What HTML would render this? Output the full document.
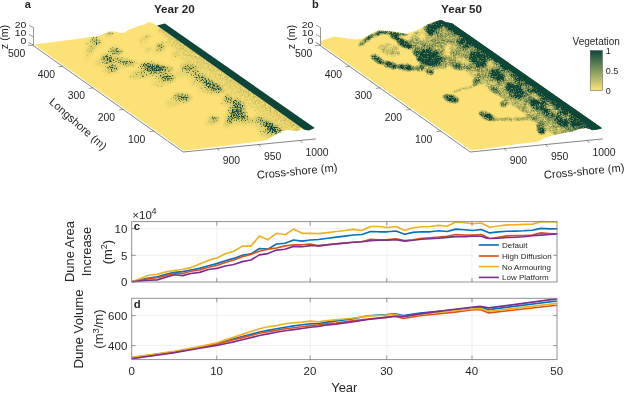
<!DOCTYPE html>
<html><head><meta charset="utf-8"><title>Dune figure</title>
<style>html,body{margin:0;padding:0;background:#fff}svg{display:block}text{font-family:"Liberation Sans",Arial,sans-serif;fill:#262626}</style></head><body>
<svg width="625" height="400" viewBox="0 0 625 400">
<rect width="625" height="400" fill="#fff"/>
<defs>
<linearGradient id="cb" x1="0" y1="0" x2="0" y2="1"><stop offset="0" stop-color="#0d4638"/><stop offset="0.5" stop-color="#7f9a5a"/><stop offset="1" stop-color="#fde37a"/></linearGradient>
</defs>
<g transform="translate(0,0)">
<polygon points="34.0,44.5 90.0,37.3 98.6,35.9 104.4,33.4 109.4,31.6 114.5,31.6 120.2,33.0 123.8,33.0 128.9,29.4 133.2,28.2 139.0,25.8 144.7,24.4 148.3,21.9 151.9,22.9 157.0,25.4 305.0,130.0 304.3,129.7 302.1,129.0 296.5,131.3 292.0,130.6 287.5,129.7 281.9,131.7 274.1,135.8 266.2,140.2 247.2,142.9 224.8,145.8 202.4,148.5 183.8,150.7" fill="#fce276"/>
<polygon points="157.0,25.4 164.9,23.6 314.5,127.8 313.8,128.6 308.8,130.6 304.3,129.7" fill="#0d4638"/>
<g stroke="#555" stroke-width="0.6" fill="none">
<path d="M33.5,27.5V45 M29,25.2L33.5,27.7 M29,34.4L33.5,36.9 M28.5,42.5L33.5,45 M28,45.3H33.5"/>
<path d="M32.7,45.2L183.2,152L315.9,138.9" stroke-width="0.8" stroke="#666"/>
<path d="M62.9,66.2l-4.5,0.6"/>
<path d="M93.3,87.8l-4.5,0.6"/>
<path d="M123.7,109.4l-4.5,0.6"/>
<path d="M154.1,131.0l-4.5,0.6"/>
<path d="M216.9,148l2.5,3.0"/>
<path d="M258.3,144.1l2.5,3.0"/>
<path d="M300,140.1l2.5,3.0"/>
</g>
<text x="16.6" y="56.8" font-size="10.4" text-anchor="middle">500</text>
<text x="46.4" y="77.80000000000001" font-size="10.4" text-anchor="middle">400</text>
<text x="76.3" y="99.4" font-size="10.4" text-anchor="middle">300</text>
<text x="106.3" y="121.10000000000001" font-size="10.4" text-anchor="middle">200</text>
<text x="136.7" y="142.5" font-size="10.4" text-anchor="middle">100</text>
<text x="231.4" y="163.70000000000002" font-size="10.4" text-anchor="middle">900</text>
<text x="272.7" y="159.9" font-size="10.4" text-anchor="middle">950</text>
<text x="317" y="156.1" font-size="10.4" text-anchor="middle">1000</text>
<text transform="translate(26.4,27.8) scale(1,0.82)" font-size="10.5" text-anchor="end">20</text>
<text transform="translate(26.4,35.8) scale(1,0.82)" font-size="10.5" text-anchor="end">10</text>
<text transform="translate(26.4,43.8) scale(1,0.82)" font-size="10.5" text-anchor="end">0</text>
<text transform="translate(8.4,37) rotate(-90)" font-size="10.7" text-anchor="middle">z (m)</text>
<text transform="translate(75.6,126.8) rotate(41.3)" font-size="11.1" text-anchor="middle">Longshore (m)</text>
<text transform="translate(297.4,175) rotate(-5.5)" font-size="11.2" text-anchor="middle">Cross-shore (m)</text>
</g>
<g transform="translate(287,0)">
<polygon points="34.0,44.5 34.0,41.0 46.7,36.4 68.3,39.5 75.5,38.8 85.6,33.0 91.8,30.2 100.6,31.1 109.4,32.0 118.2,33.8 125.3,32.0 134.0,28.5 141.1,24.1 148.1,21.4 154.3,20.0 158.7,22.3 164.9,23.2 314.5,127.8 314.4,128.7 305.5,130.2 298.7,128.0 292.0,129.1 285.3,131.4 274.1,133.6 265.1,135.8 257.3,138.1 251.7,141.4 224.8,144.8 202.4,148.2 183.8,150.3" fill="#fce276"/>
<g stroke="#555" stroke-width="0.6" fill="none">
<path d="M33.5,27.5V45 M29,25.2L33.5,27.7 M29,34.4L33.5,36.9 M28.5,42.5L33.5,45 M28,45.3H33.5"/>
<path d="M32.7,45.2L183.2,152L315.9,138.9" stroke-width="0.8" stroke="#666"/>
<path d="M62.9,66.2l-4.5,0.6"/>
<path d="M93.3,87.8l-4.5,0.6"/>
<path d="M123.7,109.4l-4.5,0.6"/>
<path d="M154.1,131.0l-4.5,0.6"/>
<path d="M216.9,148l2.5,3.0"/>
<path d="M258.3,144.1l2.5,3.0"/>
<path d="M300,140.1l2.5,3.0"/>
</g>
<text x="16.6" y="56.8" font-size="10.4" text-anchor="middle">500</text>
<text x="46.4" y="77.80000000000001" font-size="10.4" text-anchor="middle">400</text>
<text x="76.3" y="99.4" font-size="10.4" text-anchor="middle">300</text>
<text x="106.3" y="121.10000000000001" font-size="10.4" text-anchor="middle">200</text>
<text x="136.7" y="142.5" font-size="10.4" text-anchor="middle">100</text>
<text x="231.4" y="163.70000000000002" font-size="10.4" text-anchor="middle">900</text>
<text x="272.7" y="159.9" font-size="10.4" text-anchor="middle">950</text>
<text x="317" y="156.1" font-size="10.4" text-anchor="middle">1000</text>
<text transform="translate(26.4,27.8) scale(1,0.82)" font-size="10.5" text-anchor="end">20</text>
<text transform="translate(26.4,35.8) scale(1,0.82)" font-size="10.5" text-anchor="end">10</text>
<text transform="translate(26.4,43.8) scale(1,0.82)" font-size="10.5" text-anchor="end">0</text>
<text transform="translate(8.4,37) rotate(-90)" font-size="10.7" text-anchor="middle">z (m)</text>
<text transform="translate(297.4,175) rotate(-5.5)" font-size="11.2" text-anchor="middle">Cross-shore (m)</text>
</g>
<defs><filter id="vf" x="0" y="0" width="625" height="200" filterUnits="userSpaceOnUse" color-interpolation-filters="sRGB">
<feGaussianBlur in="SourceAlpha" stdDeviation="1.9" result="b"/>
<feTurbulence type="fractalNoise" baseFrequency="0.8" numOctaves="2" seed="3" result="n"/>
<feColorMatrix in="n" type="matrix" values="0 0 0 0 0  0 0 0 0 0  0 0 0 0 0  1.6 0 0 0 -0.3" result="na"/>
<feComposite in="b" in2="na" operator="arithmetic" k1="0" k2="1" k3="1" k4="-1" result="s"/>
<feComponentTransfer in="s" result="t"><feFuncA type="linear" slope="2.6" intercept="0"/></feComponentTransfer>
<feFlood flood-color="#0d4638"/>
<feComposite in2="t" operator="in"/>
<feGaussianBlur stdDeviation="0.45"/>
</filter><clipPath id="ca"><polygon points="33.5,44.8 90,37.3 98.6,35.9 104.4,33.4 109.4,31.6 114.5,31.6 120.2,33 123.8,33 128.9,29.4 133.2,28.2 139,25.8 144.7,24.4 148.3,21.9 151.9,22.9 157,25.4 305,130 304.3,129.7 302.1,129 296.5,131.3 292,130.6 287.5,129.7 281.9,131.7 274.1,135.8 266.2,140.2 247.2,142.9 224.8,145.8 202.4,148.5 183.4,151"/></clipPath></defs>
<defs><filter id="bandblur" x="0" y="0" width="340" height="200" filterUnits="userSpaceOnUse"><feGaussianBlur stdDeviation="0.7"/></filter></defs>
<defs><filter id="soft" x="0" y="0" width="625" height="200" filterUnits="userSpaceOnUse"><feGaussianBlur stdDeviation="1.4"/></filter><filter id="vb" x="0" y="0" width="340" height="200" filterUnits="userSpaceOnUse" color-interpolation-filters="sRGB">
<feGaussianBlur in="SourceGraphic" stdDeviation="1.4" result="g"/>
<feColorMatrix in="g" type="matrix" values="0 0 0 0 0  0 0 0 0 0  0 0 0 0 0  1 0 0 0 0" result="b"/>
<feTurbulence type="fractalNoise" baseFrequency="0.75" numOctaves="2" seed="5" result="n"/>
<feColorMatrix in="n" type="matrix" values="0 0 0 0 0  0 0 0 0 0  0 0 0 0 0  1.6 0 0 0 -0.3" result="na"/>
<feTurbulence type="fractalNoise" baseFrequency="0.2" numOctaves="3" seed="11" result="m"/>
<feColorMatrix in="m" type="matrix" values="0 0 0 0 0  0 0 0 0 0  0 0 0 0 0  1 0 0 0 0" result="ma"/>
<feComposite in="b" in2="ma" operator="arithmetic" k1="1.4" k2="0.38" k3="0" k4="0" result="b2"/>
<feComposite in="b2" in2="na" operator="arithmetic" k1="1.0" k2="0.5" k3="0" k4="0" result="s"/>
<feComponentTransfer in="s" result="t"><feFuncA type="linear" slope="1.35" intercept="-0.17500000000000004"/></feComponentTransfer>
<feFlood flood-color="#0d4638"/>
<feComposite in2="t" operator="in"/>
<feGaussianBlur stdDeviation="0.55"/>
</filter>
<filter id="vbs" x="0" y="0" width="340" height="200" filterUnits="userSpaceOnUse" color-interpolation-filters="sRGB">
<feGaussianBlur in="SourceGraphic" stdDeviation="2" result="g"/>
<feColorMatrix in="g" type="matrix" values="0 0 0 0 0.37  0 0 0 0 0.48  0 0 0 0 0.24  0.5 0 0 0 0"/>
</filter><clipPath id="cbp"><polygon points="33.5,44.8 33.8,41 46.7,36.4 68.3,39.5 75.5,38.8 85.6,33 91.8,30.2 100.6,31.1 109.4,32 118.2,33.8 125.3,32 134,28.5 141.1,24.1 148.1,21.4 154.3,20 158.7,22.3 164.9,23.2 314.5,127.8 314.4,128.7 305.5,130.2 298.7,128 292,129.1 285.3,131.4 274.1,133.6 265.1,135.8 257.3,138.1 251.7,141.4 224.8,144.8 202.4,148.2 183.4,150.4"/></clipPath></defs>
<defs><filter id="sn" x="0" y="0" width="340" height="200" filterUnits="userSpaceOnUse" color-interpolation-filters="sRGB">
<feGaussianBlur in="SourceAlpha" stdDeviation="1.6" result="b"/>
<feTurbulence type="fractalNoise" baseFrequency="0.6" numOctaves="2" seed="9" result="n"/>
<feColorMatrix in="n" type="matrix" values="0 0 0 0 0  0 0 0 0 0  0 0 0 0 0  2.2 0 0 0 -0.6" result="na"/>
<feComposite in="b" in2="na" operator="arithmetic" k1="0.45" k2="0" k3="0" k4="0" result="t"/>
<feFlood flood-color="#6d7d3a"/>
<feComposite in2="t" operator="in"/>
<feGaussianBlur stdDeviation="0.4"/>
</filter></defs>
<g clip-path="url(#ca)"><g filter="url(#sn)"><polygon points="160.6,26.7 305.6,129.2 302.7,133.3 157.7,30.8" fill-opacity="1"/><polygon points="167.7,37.8 302.7,133.3 299.8,137.3 164.8,41.8" fill-opacity="0.75"/><polygon points="179.8,52.3 294.8,133.8 291.9,137.9 176.9,56.4" fill-opacity="0.45"/></g><g filter="url(#soft)" fill="#5f7a3c" opacity="0.45"><ellipse cx="108.4" cy="34.3" rx="4.7" ry="2.2" transform="rotate(-25 110 32.7)" fill-opacity="0.24"/>
<ellipse cx="110" cy="32.7" rx="3.125" ry="1.7249999999999999" transform="rotate(0 110 32.7)" fill-opacity="0.6240000000000001"/>
<ellipse cx="93.1" cy="43.0" rx="8.4" ry="3.7" transform="rotate(-5 95.9 40.4)" fill-opacity="0.25"/>
<ellipse cx="95.9" cy="40.4" rx="5.625" ry="2.875" transform="rotate(20 95.9 40.4)" fill-opacity="0.663"/>
<ellipse cx="87.7" cy="50.6" rx="9.4" ry="2.7" transform="rotate(-55 90.8 48.7)" fill-opacity="0.18"/>
<ellipse cx="90.8" cy="48.7" rx="6.25" ry="2.07" transform="rotate(-30 90.8 48.7)" fill-opacity="0.46799999999999997"/>
<ellipse cx="112.3" cy="53.2" rx="10.3" ry="3.7" transform="rotate(-15 115.7 50.6)" fill-opacity="0.27"/>
<ellipse cx="115.7" cy="50.6" rx="6.875" ry="2.875" transform="rotate(10 115.7 50.6)" fill-opacity="0.7020000000000001"/>
<ellipse cx="104.0" cy="62.0" rx="10.3" ry="4.5" transform="rotate(-5 107.4 58.9)" fill-opacity="0.25"/>
<ellipse cx="107.4" cy="58.9" rx="6.875" ry="3.4499999999999997" transform="rotate(20 107.4 58.9)" fill-opacity="0.663"/>
<ellipse cx="119.1" cy="64.1" rx="16.9" ry="3.7" transform="rotate(-13 124.7 61.5)" fill-opacity="0.24"/>
<ellipse cx="124.7" cy="61.5" rx="11.25" ry="2.875" transform="rotate(12 124.7 61.5)" fill-opacity="0.6240000000000001"/>
<ellipse cx="110.7" cy="70.5" rx="7.5" ry="3.7" transform="rotate(-5 113.2 67.9)" fill-opacity="0.24"/>
<ellipse cx="113.2" cy="67.9" rx="5.0" ry="2.875" transform="rotate(20 113.2 67.9)" fill-opacity="0.6240000000000001"/>
<ellipse cx="145.3" cy="70.8" rx="18.8" ry="5.2" transform="rotate(-15 151.6 67.2)" fill-opacity="0.25"/>
<ellipse cx="151.6" cy="67.2" rx="12.5" ry="4.0249999999999995" transform="rotate(10 151.6 67.2)" fill-opacity="0.663"/>
<ellipse cx="162.2" cy="71.1" rx="11.2" ry="3.7" transform="rotate(-15 166 68.5)" fill-opacity="0.21"/>
<ellipse cx="166" cy="68.5" rx="7.5" ry="2.875" transform="rotate(10 166 68.5)" fill-opacity="0.5459999999999999"/>
<ellipse cx="158.3" cy="48.7" rx="6.6" ry="3.7" transform="rotate(-25 160.5 46.1)" fill-opacity="0.25"/>
<ellipse cx="160.5" cy="46.1" rx="4.375" ry="2.875" transform="rotate(0 160.5 46.1)" fill-opacity="0.663"/>
<ellipse cx="142.1" cy="39.4" rx="9.4" ry="2.2" transform="rotate(-50 145.2 37.8)" fill-opacity="0.13"/>
<ellipse cx="145.2" cy="37.8" rx="6.25" ry="1.7249999999999999" transform="rotate(-25 145.2 37.8)" fill-opacity="0.35100000000000003"/>
<ellipse cx="146.5" cy="50.5" rx="5.6" ry="1.8" transform="rotate(-45 148.4 49.3)" fill-opacity="0.13"/>
<ellipse cx="148.4" cy="49.3" rx="3.75" ry="1.38" transform="rotate(-20 148.4 49.3)" fill-opacity="0.35100000000000003"/>
<ellipse cx="173.1" cy="55.3" rx="5.6" ry="2.2" transform="rotate(-45 175 53.7)" fill-opacity="0.15"/>
<ellipse cx="175" cy="53.7" rx="3.75" ry="1.7249999999999999" transform="rotate(-20 175 53.7)" fill-opacity="0.39"/>
<ellipse cx="148.2" cy="70.3" rx="16.9" ry="5.2" transform="rotate(-15 153.8 66.7)" fill-opacity="0.18"/>
<ellipse cx="153.8" cy="66.7" rx="11.25" ry="4.0249999999999995" transform="rotate(10 153.8 66.7)" fill-opacity="0.46799999999999997"/>
<ellipse cx="162.7" cy="80.4" rx="12.2" ry="4.5" transform="rotate(-15 166.8 77.3)" fill-opacity="0.25"/>
<ellipse cx="166.8" cy="77.3" rx="8.125" ry="3.4499999999999997" transform="rotate(10 166.8 77.3)" fill-opacity="0.663"/>
<ellipse cx="184.4" cy="71.1" rx="13.1" ry="5.2" transform="rotate(-15 188.8 67.5)" fill-opacity="0.21"/>
<ellipse cx="188.8" cy="67.5" rx="8.75" ry="4.0249999999999995" transform="rotate(10 188.8 67.5)" fill-opacity="0.5459999999999999"/>
<ellipse cx="195.2" cy="77.9" rx="7.5" ry="4.5" transform="rotate(-5 197.7 74.8)" fill-opacity="0.18"/>
<ellipse cx="197.7" cy="74.8" rx="5.0" ry="3.4499999999999997" transform="rotate(20 197.7 74.8)" fill-opacity="0.46799999999999997"/>
<ellipse cx="200.3" cy="82.0" rx="9.4" ry="4.5" transform="rotate(-5 203.4 78.9)" fill-opacity="0.22"/>
<ellipse cx="203.4" cy="78.9" rx="6.25" ry="3.4499999999999997" transform="rotate(20 203.4 78.9)" fill-opacity="0.585"/>
<ellipse cx="206.8" cy="87.4" rx="9.4" ry="5.2" transform="rotate(-5 209.9 83.8)" fill-opacity="0.24"/>
<ellipse cx="209.9" cy="83.8" rx="6.25" ry="4.0249999999999995" transform="rotate(20 209.9 83.8)" fill-opacity="0.6240000000000001"/>
<ellipse cx="213.3" cy="90.1" rx="9.4" ry="4.5" transform="rotate(-5 216.4 87)" fill-opacity="0.22"/>
<ellipse cx="216.4" cy="87" rx="6.25" ry="3.4499999999999997" transform="rotate(20 216.4 87)" fill-opacity="0.585"/>
<ellipse cx="217.5" cy="91.6" rx="7.5" ry="3.0" transform="rotate(-5 220 89.5)" fill-opacity="0.18"/>
<ellipse cx="220" cy="89.5" rx="5.0" ry="2.3" transform="rotate(20 220 89.5)" fill-opacity="0.46799999999999997"/>
<ellipse cx="177.6" cy="99.9" rx="14.1" ry="4.5" transform="rotate(-15 182.3 96.8)" fill-opacity="0.25"/>
<ellipse cx="182.3" cy="96.8" rx="9.375" ry="3.4499999999999997" transform="rotate(10 182.3 96.8)" fill-opacity="0.663"/>
<ellipse cx="225.4" cy="101.1" rx="6.6" ry="4.5" transform="rotate(-25 227.6 98)" fill-opacity="0.24"/>
<ellipse cx="227.6" cy="98" rx="4.375" ry="3.4499999999999997" transform="rotate(0 227.6 98)" fill-opacity="0.6240000000000001"/>
<ellipse cx="233.4" cy="106.2" rx="7.5" ry="5.2" transform="rotate(-25 235.9 102.6)" fill-opacity="0.24"/>
<ellipse cx="235.9" cy="102.6" rx="5.0" ry="4.0249999999999995" transform="rotate(0 235.9 102.6)" fill-opacity="0.6240000000000001"/>
<ellipse cx="239.5" cy="108.0" rx="5.6" ry="3.7" transform="rotate(-25 241.4 105.4)" fill-opacity="0.21"/>
<ellipse cx="241.4" cy="105.4" rx="3.75" ry="2.875" transform="rotate(0 241.4 105.4)" fill-opacity="0.5459999999999999"/>
<ellipse cx="230.9" cy="114.0" rx="9.4" ry="4.5" transform="rotate(-25 234 110.9)" fill-opacity="0.24"/>
<ellipse cx="234" cy="110.9" rx="6.25" ry="3.4499999999999997" transform="rotate(0 234 110.9)" fill-opacity="0.6240000000000001"/>
<ellipse cx="241.6" cy="113.5" rx="4.7" ry="3.7" transform="rotate(-25 243.2 110.9)" fill-opacity="0.21"/>
<ellipse cx="243.2" cy="110.9" rx="3.125" ry="2.875" transform="rotate(0 243.2 110.9)" fill-opacity="0.5459999999999999"/>
<ellipse cx="233.3" cy="119.5" rx="13.1" ry="4.5" transform="rotate(-25 237.7 116.4)" fill-opacity="0.24"/>
<ellipse cx="237.7" cy="116.4" rx="8.75" ry="3.4499999999999997" transform="rotate(0 237.7 116.4)" fill-opacity="0.6240000000000001"/>
<ellipse cx="227.5" cy="121.3" rx="5.6" ry="3.0" transform="rotate(-25 229.4 119.2)" fill-opacity="0.21"/>
<ellipse cx="229.4" cy="119.2" rx="3.75" ry="2.3" transform="rotate(0 229.4 119.2)" fill-opacity="0.5459999999999999"/>
<ellipse cx="244.4" cy="121.3" rx="7.5" ry="3.0" transform="rotate(-25 246.9 119.2)" fill-opacity="0.21"/>
<ellipse cx="246.9" cy="119.2" rx="5.0" ry="2.3" transform="rotate(0 246.9 119.2)" fill-opacity="0.5459999999999999"/>
<ellipse cx="211.3" cy="121.1" rx="7.5" ry="3.3" transform="rotate(-15 213.8 118.8)" fill-opacity="0.25"/>
<ellipse cx="213.8" cy="118.8" rx="5.0" ry="2.53" transform="rotate(10 213.8 118.8)" fill-opacity="0.663"/>
<ellipse cx="256.7" cy="121.8" rx="9.4" ry="3.7" transform="rotate(-5 259.8 119.2)" fill-opacity="0.22"/>
<ellipse cx="259.8" cy="119.2" rx="6.25" ry="2.875" transform="rotate(20 259.8 119.2)" fill-opacity="0.585"/>
<ellipse cx="264.9" cy="126.9" rx="9.4" ry="4.5" transform="rotate(-5 268 123.8)" fill-opacity="0.25"/>
<ellipse cx="268" cy="123.8" rx="6.25" ry="3.4499999999999997" transform="rotate(20 268 123.8)" fill-opacity="0.663"/>
<ellipse cx="269.9" cy="132.0" rx="11.2" ry="5.2" transform="rotate(-5 273.6 128.4)" fill-opacity="0.25"/>
<ellipse cx="273.6" cy="128.4" rx="7.5" ry="4.0249999999999995" transform="rotate(20 273.6 128.4)" fill-opacity="0.663"/>
<ellipse cx="268.9" cy="133.2" rx="5.6" ry="3.0" transform="rotate(-25 270.8 131.1)" fill-opacity="0.21"/>
<ellipse cx="270.8" cy="131.1" rx="3.75" ry="2.3" transform="rotate(0 270.8 131.1)" fill-opacity="0.5459999999999999"/>
<ellipse cx="277.1" cy="132.1" rx="5.6" ry="3.0" transform="rotate(-25 279 130)" fill-opacity="0.18"/>
<ellipse cx="279" cy="130" rx="3.75" ry="2.3" transform="rotate(0 279 130)" fill-opacity="0.46799999999999997"/></g><g filter="url(#vf)"><ellipse cx="108.4" cy="34.3" rx="4.7" ry="2.2" transform="rotate(-25 110 32.7)" fill-opacity="0.24"/>
<ellipse cx="110" cy="32.7" rx="3.125" ry="1.7249999999999999" transform="rotate(0 110 32.7)" fill-opacity="0.6240000000000001"/>
<ellipse cx="93.1" cy="43.0" rx="8.4" ry="3.7" transform="rotate(-5 95.9 40.4)" fill-opacity="0.25"/>
<ellipse cx="95.9" cy="40.4" rx="5.625" ry="2.875" transform="rotate(20 95.9 40.4)" fill-opacity="0.663"/>
<ellipse cx="87.7" cy="50.6" rx="9.4" ry="2.7" transform="rotate(-55 90.8 48.7)" fill-opacity="0.18"/>
<ellipse cx="90.8" cy="48.7" rx="6.25" ry="2.07" transform="rotate(-30 90.8 48.7)" fill-opacity="0.46799999999999997"/>
<ellipse cx="112.3" cy="53.2" rx="10.3" ry="3.7" transform="rotate(-15 115.7 50.6)" fill-opacity="0.27"/>
<ellipse cx="115.7" cy="50.6" rx="6.875" ry="2.875" transform="rotate(10 115.7 50.6)" fill-opacity="0.7020000000000001"/>
<ellipse cx="104.0" cy="62.0" rx="10.3" ry="4.5" transform="rotate(-5 107.4 58.9)" fill-opacity="0.25"/>
<ellipse cx="107.4" cy="58.9" rx="6.875" ry="3.4499999999999997" transform="rotate(20 107.4 58.9)" fill-opacity="0.663"/>
<ellipse cx="119.1" cy="64.1" rx="16.9" ry="3.7" transform="rotate(-13 124.7 61.5)" fill-opacity="0.24"/>
<ellipse cx="124.7" cy="61.5" rx="11.25" ry="2.875" transform="rotate(12 124.7 61.5)" fill-opacity="0.6240000000000001"/>
<ellipse cx="110.7" cy="70.5" rx="7.5" ry="3.7" transform="rotate(-5 113.2 67.9)" fill-opacity="0.24"/>
<ellipse cx="113.2" cy="67.9" rx="5.0" ry="2.875" transform="rotate(20 113.2 67.9)" fill-opacity="0.6240000000000001"/>
<ellipse cx="145.3" cy="70.8" rx="18.8" ry="5.2" transform="rotate(-15 151.6 67.2)" fill-opacity="0.25"/>
<ellipse cx="151.6" cy="67.2" rx="12.5" ry="4.0249999999999995" transform="rotate(10 151.6 67.2)" fill-opacity="0.663"/>
<ellipse cx="162.2" cy="71.1" rx="11.2" ry="3.7" transform="rotate(-15 166 68.5)" fill-opacity="0.21"/>
<ellipse cx="166" cy="68.5" rx="7.5" ry="2.875" transform="rotate(10 166 68.5)" fill-opacity="0.5459999999999999"/>
<ellipse cx="158.3" cy="48.7" rx="6.6" ry="3.7" transform="rotate(-25 160.5 46.1)" fill-opacity="0.25"/>
<ellipse cx="160.5" cy="46.1" rx="4.375" ry="2.875" transform="rotate(0 160.5 46.1)" fill-opacity="0.663"/>
<ellipse cx="142.1" cy="39.4" rx="9.4" ry="2.2" transform="rotate(-50 145.2 37.8)" fill-opacity="0.13"/>
<ellipse cx="145.2" cy="37.8" rx="6.25" ry="1.7249999999999999" transform="rotate(-25 145.2 37.8)" fill-opacity="0.35100000000000003"/>
<ellipse cx="146.5" cy="50.5" rx="5.6" ry="1.8" transform="rotate(-45 148.4 49.3)" fill-opacity="0.13"/>
<ellipse cx="148.4" cy="49.3" rx="3.75" ry="1.38" transform="rotate(-20 148.4 49.3)" fill-opacity="0.35100000000000003"/>
<ellipse cx="173.1" cy="55.3" rx="5.6" ry="2.2" transform="rotate(-45 175 53.7)" fill-opacity="0.15"/>
<ellipse cx="175" cy="53.7" rx="3.75" ry="1.7249999999999999" transform="rotate(-20 175 53.7)" fill-opacity="0.39"/>
<ellipse cx="148.2" cy="70.3" rx="16.9" ry="5.2" transform="rotate(-15 153.8 66.7)" fill-opacity="0.18"/>
<ellipse cx="153.8" cy="66.7" rx="11.25" ry="4.0249999999999995" transform="rotate(10 153.8 66.7)" fill-opacity="0.46799999999999997"/>
<ellipse cx="162.7" cy="80.4" rx="12.2" ry="4.5" transform="rotate(-15 166.8 77.3)" fill-opacity="0.25"/>
<ellipse cx="166.8" cy="77.3" rx="8.125" ry="3.4499999999999997" transform="rotate(10 166.8 77.3)" fill-opacity="0.663"/>
<ellipse cx="184.4" cy="71.1" rx="13.1" ry="5.2" transform="rotate(-15 188.8 67.5)" fill-opacity="0.21"/>
<ellipse cx="188.8" cy="67.5" rx="8.75" ry="4.0249999999999995" transform="rotate(10 188.8 67.5)" fill-opacity="0.5459999999999999"/>
<ellipse cx="195.2" cy="77.9" rx="7.5" ry="4.5" transform="rotate(-5 197.7 74.8)" fill-opacity="0.18"/>
<ellipse cx="197.7" cy="74.8" rx="5.0" ry="3.4499999999999997" transform="rotate(20 197.7 74.8)" fill-opacity="0.46799999999999997"/>
<ellipse cx="200.3" cy="82.0" rx="9.4" ry="4.5" transform="rotate(-5 203.4 78.9)" fill-opacity="0.22"/>
<ellipse cx="203.4" cy="78.9" rx="6.25" ry="3.4499999999999997" transform="rotate(20 203.4 78.9)" fill-opacity="0.585"/>
<ellipse cx="206.8" cy="87.4" rx="9.4" ry="5.2" transform="rotate(-5 209.9 83.8)" fill-opacity="0.24"/>
<ellipse cx="209.9" cy="83.8" rx="6.25" ry="4.0249999999999995" transform="rotate(20 209.9 83.8)" fill-opacity="0.6240000000000001"/>
<ellipse cx="213.3" cy="90.1" rx="9.4" ry="4.5" transform="rotate(-5 216.4 87)" fill-opacity="0.22"/>
<ellipse cx="216.4" cy="87" rx="6.25" ry="3.4499999999999997" transform="rotate(20 216.4 87)" fill-opacity="0.585"/>
<ellipse cx="217.5" cy="91.6" rx="7.5" ry="3.0" transform="rotate(-5 220 89.5)" fill-opacity="0.18"/>
<ellipse cx="220" cy="89.5" rx="5.0" ry="2.3" transform="rotate(20 220 89.5)" fill-opacity="0.46799999999999997"/>
<ellipse cx="177.6" cy="99.9" rx="14.1" ry="4.5" transform="rotate(-15 182.3 96.8)" fill-opacity="0.25"/>
<ellipse cx="182.3" cy="96.8" rx="9.375" ry="3.4499999999999997" transform="rotate(10 182.3 96.8)" fill-opacity="0.663"/>
<ellipse cx="225.4" cy="101.1" rx="6.6" ry="4.5" transform="rotate(-25 227.6 98)" fill-opacity="0.24"/>
<ellipse cx="227.6" cy="98" rx="4.375" ry="3.4499999999999997" transform="rotate(0 227.6 98)" fill-opacity="0.6240000000000001"/>
<ellipse cx="233.4" cy="106.2" rx="7.5" ry="5.2" transform="rotate(-25 235.9 102.6)" fill-opacity="0.24"/>
<ellipse cx="235.9" cy="102.6" rx="5.0" ry="4.0249999999999995" transform="rotate(0 235.9 102.6)" fill-opacity="0.6240000000000001"/>
<ellipse cx="239.5" cy="108.0" rx="5.6" ry="3.7" transform="rotate(-25 241.4 105.4)" fill-opacity="0.21"/>
<ellipse cx="241.4" cy="105.4" rx="3.75" ry="2.875" transform="rotate(0 241.4 105.4)" fill-opacity="0.5459999999999999"/>
<ellipse cx="230.9" cy="114.0" rx="9.4" ry="4.5" transform="rotate(-25 234 110.9)" fill-opacity="0.24"/>
<ellipse cx="234" cy="110.9" rx="6.25" ry="3.4499999999999997" transform="rotate(0 234 110.9)" fill-opacity="0.6240000000000001"/>
<ellipse cx="241.6" cy="113.5" rx="4.7" ry="3.7" transform="rotate(-25 243.2 110.9)" fill-opacity="0.21"/>
<ellipse cx="243.2" cy="110.9" rx="3.125" ry="2.875" transform="rotate(0 243.2 110.9)" fill-opacity="0.5459999999999999"/>
<ellipse cx="233.3" cy="119.5" rx="13.1" ry="4.5" transform="rotate(-25 237.7 116.4)" fill-opacity="0.24"/>
<ellipse cx="237.7" cy="116.4" rx="8.75" ry="3.4499999999999997" transform="rotate(0 237.7 116.4)" fill-opacity="0.6240000000000001"/>
<ellipse cx="227.5" cy="121.3" rx="5.6" ry="3.0" transform="rotate(-25 229.4 119.2)" fill-opacity="0.21"/>
<ellipse cx="229.4" cy="119.2" rx="3.75" ry="2.3" transform="rotate(0 229.4 119.2)" fill-opacity="0.5459999999999999"/>
<ellipse cx="244.4" cy="121.3" rx="7.5" ry="3.0" transform="rotate(-25 246.9 119.2)" fill-opacity="0.21"/>
<ellipse cx="246.9" cy="119.2" rx="5.0" ry="2.3" transform="rotate(0 246.9 119.2)" fill-opacity="0.5459999999999999"/>
<ellipse cx="211.3" cy="121.1" rx="7.5" ry="3.3" transform="rotate(-15 213.8 118.8)" fill-opacity="0.25"/>
<ellipse cx="213.8" cy="118.8" rx="5.0" ry="2.53" transform="rotate(10 213.8 118.8)" fill-opacity="0.663"/>
<ellipse cx="256.7" cy="121.8" rx="9.4" ry="3.7" transform="rotate(-5 259.8 119.2)" fill-opacity="0.22"/>
<ellipse cx="259.8" cy="119.2" rx="6.25" ry="2.875" transform="rotate(20 259.8 119.2)" fill-opacity="0.585"/>
<ellipse cx="264.9" cy="126.9" rx="9.4" ry="4.5" transform="rotate(-5 268 123.8)" fill-opacity="0.25"/>
<ellipse cx="268" cy="123.8" rx="6.25" ry="3.4499999999999997" transform="rotate(20 268 123.8)" fill-opacity="0.663"/>
<ellipse cx="269.9" cy="132.0" rx="11.2" ry="5.2" transform="rotate(-5 273.6 128.4)" fill-opacity="0.25"/>
<ellipse cx="273.6" cy="128.4" rx="7.5" ry="4.0249999999999995" transform="rotate(20 273.6 128.4)" fill-opacity="0.663"/>
<ellipse cx="268.9" cy="133.2" rx="5.6" ry="3.0" transform="rotate(-25 270.8 131.1)" fill-opacity="0.21"/>
<ellipse cx="270.8" cy="131.1" rx="3.75" ry="2.3" transform="rotate(0 270.8 131.1)" fill-opacity="0.5459999999999999"/>
<ellipse cx="277.1" cy="132.1" rx="5.6" ry="3.0" transform="rotate(-25 279 130)" fill-opacity="0.18"/>
<ellipse cx="279" cy="130" rx="3.75" ry="2.3" transform="rotate(0 279 130)" fill-opacity="0.46799999999999997"/></g></g>
<g transform="translate(287,0)"><g clip-path="url(#cbp)"><g filter="url(#vb)"><rect x="0" y="0" width="340" height="200" fill="#000"/>
<polygon points="164.9,23.2 314.5,127.8 295.6,154.8 146.0,50.2" fill="#404040" fill-opacity="1"/>
<polygon points="225.0,65.2 314.5,127.8 295.6,154.8 206.1,92.2" fill="#545454" fill-opacity="1"/>
<polygon points="205.0,51.2 314.5,127.8 301.9,145.8 192.4,69.2" fill="#808080" fill-opacity="1"/>
<polygon points="205.0,51.2 314.5,127.8 307.6,137.6 198.1,61.0" fill="#999999" fill-opacity="1"/>
<polygon points="164.9,23.2 205.0,51.2 192.4,69.2 152.3,41.2" fill="#404040" fill-opacity="1"/>
<polygon points="164.9,23.2 205.0,51.2 199.3,59.4 159.2,31.4" fill="#666666" fill-opacity="1"/>
<polygon points="122,40 128,31 140,23 156,19 170,26 215,60 225,90 200,80 170,66 150,70 132,64 126,52" fill="#666666" fill-opacity="1"/>
<ellipse cx="80" cy="39.5" rx="11" ry="2" transform="rotate(-36 80 39.5)" fill="#bfbfbf" fill-opacity="1"/>
<ellipse cx="105" cy="33.0" rx="17" ry="1.7" transform="rotate(5 105 33.0)" fill="#cccccc" fill-opacity="1"/>
<ellipse cx="90" cy="33.5" rx="4" ry="2.2" transform="rotate(-20 90 33.5)" fill="#cccccc" fill-opacity="1"/>
<ellipse cx="93.7" cy="47.6" rx="3" ry="2" transform="rotate(0 93.7 47.6)" fill="#b2b2b2" fill-opacity="1"/>
<ellipse cx="103" cy="50" rx="12" ry="7" transform="rotate(20 103 50)" fill="#3d3d3d" fill-opacity="1"/>
<ellipse cx="90" cy="59" rx="7" ry="3.2" transform="rotate(35 90 59)" fill="#c7c7c7" fill-opacity="1"/>
<ellipse cx="103" cy="65" rx="8" ry="3.2" transform="rotate(18 103 65)" fill="#c7c7c7" fill-opacity="1"/>
<ellipse cx="119" cy="67.5" rx="9" ry="3.2" transform="rotate(8 119 67.5)" fill="#c7c7c7" fill-opacity="1"/>
<ellipse cx="133" cy="68.3" rx="5" ry="2.8" transform="rotate(-10 133 68.3)" fill="#b2b2b2" fill-opacity="1"/>
<ellipse cx="142.6" cy="71.8" rx="4" ry="2.5" transform="rotate(20 142.6 71.8)" fill="#d9d9d9" fill-opacity="1"/>
<ellipse cx="116.5" cy="43" rx="9.5" ry="3.2" transform="rotate(33 116.5 43)" fill="#ffffff" fill-opacity="1"/>
<ellipse cx="108" cy="36.8" rx="5" ry="2" transform="rotate(10 108 36.8)" fill="#d9d9d9" fill-opacity="1"/>
<ellipse cx="142" cy="57.4" rx="13" ry="7.5" transform="rotate(15 142 57.4)" fill="#ffffff" fill-opacity="1"/>
<ellipse cx="131" cy="53.5" rx="6" ry="3" transform="rotate(20 131 53.5)" fill="#d9d9d9" fill-opacity="1"/>
<ellipse cx="145.5" cy="29" rx="8" ry="5.5" transform="rotate(-25 145.5 29)" fill="#ffffff" fill-opacity="1"/>
<ellipse cx="151.5" cy="23.5" rx="6" ry="3" transform="rotate(-25 151.5 23.5)" fill="#f2f2f2" fill-opacity="1"/>
<ellipse cx="153" cy="33" rx="8" ry="5.5" transform="rotate(-20 153 33)" fill="#737373" fill-opacity="1"/>
<ellipse cx="178" cy="42.6" rx="7" ry="4.5" transform="rotate(35 178 42.6)" fill="#d9d9d9" fill-opacity="1"/>
<ellipse cx="191" cy="59" rx="10" ry="6.5" transform="rotate(35 191 59)" fill="#f2f2f2" fill-opacity="1"/>
<ellipse cx="170.5" cy="67" rx="7" ry="2.5" transform="rotate(15 170.5 67)" fill="#b2b2b2" fill-opacity="1"/>
<ellipse cx="210" cy="75" rx="8" ry="5" transform="rotate(35 210 75)" fill="#e6e6e6" fill-opacity="1"/>
<ellipse cx="228" cy="91" rx="10" ry="5.5" transform="rotate(32 228 91)" fill="#f2f2f2" fill-opacity="1"/>
<ellipse cx="209" cy="91" rx="4" ry="2.5" transform="rotate(20 209 91)" fill="#cccccc" fill-opacity="1"/>
<ellipse cx="206.6" cy="89.4" rx="4" ry="3" transform="rotate(20 206.6 89.4)" fill="#999999" fill-opacity="1"/>
<ellipse cx="249" cy="104" rx="8" ry="4.5" transform="rotate(35 249 104)" fill="#d9d9d9" fill-opacity="1"/>
<ellipse cx="260" cy="112" rx="7" ry="4" transform="rotate(35 260 112)" fill="#d9d9d9" fill-opacity="1"/>
<ellipse cx="275" cy="121.5" rx="8" ry="4" transform="rotate(30 275 121.5)" fill="#e6e6e6" fill-opacity="1"/>
<ellipse cx="289" cy="124" rx="8" ry="3.5" transform="rotate(20 289 124)" fill="#e6e6e6" fill-opacity="1"/>
<ellipse cx="135.5" cy="34.5" rx="5.5" ry="7.5" transform="rotate(-10 135.5 34.5)" fill="#1f1f1f" fill-opacity="0.85"/>
<ellipse cx="160.5" cy="50" rx="3.8" ry="7.5" transform="rotate(15 160.5 50)" fill="#1a1a1a" fill-opacity="0.9"/>
<ellipse cx="175" cy="60.5" rx="7" ry="3.2" transform="rotate(25 175 60.5)" fill="#262626" fill-opacity="0.8"/>
<ellipse cx="204" cy="65.4" rx="5" ry="3.5" transform="rotate(35 204 65.4)" fill="#262626" fill-opacity="0.7"/>
<ellipse cx="222" cy="78" rx="5" ry="3.5" transform="rotate(35 222 78)" fill="#333333" fill-opacity="0.7"/>
<ellipse cx="247.5" cy="96" rx="5" ry="3.5" transform="rotate(35 247.5 96)" fill="#333333" fill-opacity="0.7"/>
<ellipse cx="265.4" cy="108.9" rx="5" ry="3.5" transform="rotate(35 265.4 108.9)" fill="#333333" fill-opacity="0.7"/>
<ellipse cx="164" cy="98.4" rx="8.5" ry="3.6" transform="rotate(15 164 98.4)" fill="#c7c7c7" fill-opacity="1"/>
<ellipse cx="190" cy="81.7" rx="5" ry="2.5" transform="rotate(10 190 81.7)" fill="#bfbfbf" fill-opacity="1"/>
<ellipse cx="200" cy="116" rx="9" ry="3.6" transform="rotate(25 200 116)" fill="#c7c7c7" fill-opacity="1"/>
<ellipse cx="216.8" cy="103.8" rx="3.5" ry="3" transform="rotate(0 216.8 103.8)" fill="#cccccc" fill-opacity="1"/>
<ellipse cx="254" cy="129" rx="4" ry="6" transform="rotate(-20 254 129)" fill="#bfbfbf" fill-opacity="1"/>
<path d="M165.6,92L177,88.5L188.7,85.5L194,81" stroke="#9e9e9e" stroke-width="1.5" fill="none"/>
<path d="M206,119L225,119.5L240,118.5L247.5,119.1L252.6,126" stroke="#b2b2b2" stroke-width="2" fill="none"/>
<polygon points="151.1,11.2 315.6,126.2 310.9,133.0 146.4,18.0" fill="#ffffff" fill-opacity="1"/>
<polygon points="216.1,56.6 315.6,126.2 309.6,134.8 210.1,65.2" fill="#d9d9d9" fill-opacity="1"/></g><g filter="url(#bandblur)" fill="#0d4638"><polygon points="151.7,10.3 321.7,129.2 316.8,136.3 146.8,17.4"/></g></g></g>
<text x="24.7" y="8" font-size="11" font-weight="bold" fill="#000">a</text>
<text x="312" y="8" font-size="11" font-weight="bold" fill="#000">b</text>
<text x="174.4" y="12.9" font-size="11.7" font-weight="bold" text-anchor="middle" fill="#000">Year 20</text>
<text x="461.6" y="12.9" font-size="11.7" font-weight="bold" text-anchor="middle" fill="#000">Year 50</text>
<text x="596.2" y="44.6" font-size="10" text-anchor="middle">Vegetation</text>
<rect x="590.2" y="50.5" width="12.3" height="40" fill="url(#cb)" stroke="#555" stroke-width="0.5"/>
<text x="605.8" y="53.7" font-size="9">1</text>
<text x="605.8" y="73.7" font-size="9">0.5</text>
<text x="605.8" y="93.7" font-size="9">0</text>
<rect x="131.7" y="221.6" width="425.3" height="60.400000000000006" fill="#fff"/>
<g stroke="#e4e4e4" stroke-width="0.6">
<path d="M216.8,221.6V282"/>
<path d="M310.2,221.6V282"/>
<path d="M386.8,221.6V282"/>
<path d="M472,221.6V282"/>
<path d="M131.7,228.6H557"/>
<path d="M131.7,255.3H557"/>
</g>
<polyline points="131.9,281.7 140.4,279.9 148.9,278.0 157.2,276.7 166.0,274.3 174.5,272.4 182.8,271.6 190.8,270.0 199.6,268.4 208.4,265.7 216.9,263.6 225.3,260.7 233.8,258.4 242.3,255.2 250.9,253.9 259.4,248.5 267.9,249.1 276.5,244.0 285.0,243.2 293.5,240.0 302.1,241.1 310.3,240.0 318.6,239.5 327.9,238.2 336.4,237.1 344.9,236.1 353.4,235.0 361.9,234.5 370.5,231.5 379.0,231.8 387.5,231.8 396.0,231.0 404.5,234.2 413.1,232.4 421.6,231.8 430.1,231.8 438.6,230.7 447.1,231.5 455.7,229.1 464.2,229.7 472.7,230.5 481.2,229.5 489.7,232.9 498.3,231.9 506.8,231.3 515.3,231.1 523.8,230.8 532.3,230.3 540.9,228.4 549.4,228.9 557.3,228.7" fill="none" stroke="#0072BD" stroke-width="1.65" stroke-linejoin="round"/>
<polyline points="131.9,281.7 140.4,280.1 148.9,278.8 157.2,277.7 166.0,275.6 174.5,273.5 182.8,273.5 190.8,271.3 199.6,270.0 208.4,267.3 216.9,265.5 225.3,262.5 233.8,260.0 242.3,256.8 250.9,254.4 259.4,251.2 267.9,249.1 276.5,248.0 285.0,245.9 293.5,244.8 302.1,244.8 310.3,244.0 318.6,246.1 327.9,244.6 336.4,243.8 344.9,243.0 353.4,242.2 361.9,241.7 370.5,239.3 379.0,239.8 387.5,239.5 396.0,238.7 404.5,240.6 413.1,239.8 421.6,238.2 430.1,237.7 438.6,237.1 447.1,236.3 455.7,234.5 464.2,235.0 472.7,235.0 481.2,234.5 489.7,238.5 498.3,237.2 506.8,235.9 515.3,235.6 523.8,235.6 532.3,235.1 540.9,232.9 549.4,233.5 557.3,234.0" fill="none" stroke="#D95319" stroke-width="1.65" stroke-linejoin="round"/>
<polyline points="131.9,281.7 140.4,278.5 148.9,275.3 157.2,274.3 166.0,271.9 174.5,270.5 182.8,269.2 190.8,267.6 199.6,263.9 208.4,260.4 216.9,258.0 225.3,253.8 233.8,251.2 242.3,246.1 250.9,246.1 259.4,236.0 267.9,239.7 276.5,233.3 285.0,234.7 293.5,229.1 302.1,233.3 310.3,233.3 318.6,233.6 327.9,232.6 336.4,231.5 344.9,230.5 353.4,229.4 361.9,230.5 370.5,226.5 379.0,226.5 387.5,227.5 396.0,226.5 404.5,230.5 413.1,227.8 421.6,226.7 430.1,226.5 438.6,225.4 447.1,226.2 455.7,221.9 464.2,222.7 472.7,223.8 481.2,223.0 489.7,227.3 498.3,226.0 506.8,224.9 515.3,224.7 523.8,224.4 532.3,224.1 540.9,221.6 549.4,221.9 557.3,221.9" fill="none" stroke="#EDB120" stroke-width="1.65" stroke-linejoin="round"/>
<polyline points="131.9,281.7 140.4,280.9 148.9,280.2 157.2,279.9 166.0,277.2 174.5,274.8 182.8,275.6 190.8,273.5 199.6,272.4 208.4,269.5 216.9,268.4 225.3,266.0 233.8,264.5 242.3,261.6 250.9,260.0 259.4,254.9 267.9,253.6 276.5,250.1 285.0,249.3 293.5,246.4 302.1,246.7 310.3,245.6 318.6,245.6 327.9,244.7 336.4,243.9 344.9,243.1 353.4,242.3 361.9,241.8 370.5,240.6 379.0,240.3 387.5,240.1 396.0,239.8 404.5,241.1 413.1,240.3 421.6,239.3 430.1,238.7 438.6,238.2 447.1,237.4 455.7,236.6 464.2,236.6 472.7,236.1 481.2,236.2 489.7,239.1 498.3,238.3 506.8,237.5 515.3,237.2 523.8,236.7 532.3,235.6 540.9,235.1 549.4,234.5 557.3,234.0" fill="none" stroke="#7E2F8E" stroke-width="1.65" stroke-linejoin="round"/>
<rect x="473" y="239.3" width="84" height="42.5" fill="#fff"/>
<rect x="131.7" y="221.6" width="425.3" height="60.400000000000006" fill="none" stroke="#8c8c8c" stroke-width="0.95"/>
<g stroke="#555" stroke-width="0.6">
<path d="M216.8,282v-4 M216.8,221.6v4"/>
<path d="M310.2,282v-4 M310.2,221.6v4"/>
<path d="M386.8,282v-4 M386.8,221.6v4"/>
<path d="M472,282v-4 M472,221.6v4"/>
<path d="M131.7,228.6h4 M557,228.6h-4"/>
<path d="M131.7,255.3h4 M557,255.3h-4"/>
</g>
<path d="M478.8,245H498.8" stroke="#0072BD" stroke-width="1.65"/>
<text x="502" y="247.9" font-size="8" fill="#000">Default</text>
<path d="M478.8,256H498.8" stroke="#D95319" stroke-width="1.65"/>
<text x="502" y="258.9" font-size="8" fill="#000">High Diffusion</text>
<path d="M478.8,266.6H498.8" stroke="#EDB120" stroke-width="1.65"/>
<text x="502" y="269.5" font-size="8" fill="#000">No Armouring</text>
<path d="M478.8,277.4H498.8" stroke="#7E2F8E" stroke-width="1.65"/>
<text x="502" y="280.29999999999995" font-size="8" fill="#000">Low Platform</text>
<text x="133.8" y="230.3" font-size="11.3" font-weight="bold" fill="#000">c</text>
<text x="132.3" y="218.8" font-size="11.5">×10<tspan dy="-4.5" font-size="8.5">4</tspan></text>
<text x="127.3" y="233.29999999999998" font-size="11.5" text-anchor="end">10</text>
<text x="127.3" y="259.7" font-size="11.5" text-anchor="end">5</text>
<text x="127.3" y="286.1" font-size="11.5" text-anchor="end">0</text>
<text transform="translate(74,251.5) rotate(-90)" font-size="12.9" text-anchor="middle">Dune Area</text>
<text transform="translate(91.2,251.5) rotate(-90)" font-size="12.9" text-anchor="middle">Increase</text>
<text transform="translate(111.6,252) rotate(-90)" font-size="12.9" text-anchor="middle">(m<tspan dy="-4.5" font-size="9">2</tspan><tspan dy="4.5">)</tspan></text>
<rect x="131.7" y="298.3" width="425.3" height="61.30000000000001" fill="#fff"/>
<g stroke="#e4e4e4" stroke-width="0.6">
<path d="M216.8,298.3V359.6"/>
<path d="M310.2,298.3V359.6"/>
<path d="M386.8,298.3V359.6"/>
<path d="M472,298.3V359.6"/>
<path d="M131.7,315.6H557"/>
<path d="M131.7,345.6H557"/>
</g>
<polyline points="131.9,357.6 174.5,351.8 199.6,347.2 216.9,343.6 225.0,341.3 233.8,338.9 242.3,336.5 250.9,334.4 259.4,332.0 267.9,330.4 276.5,328.8 285.0,327.2 293.5,325.9 302.1,324.8 310.3,323.7 318.6,323.5 325.0,322.4 336.0,320.9 352.0,319.0 368.0,315.8 386.9,314.5 395.2,313.7 403.2,315.5 420.0,313.1 454.8,309.7 471.6,307.9 480.0,307.3 488.8,309.6 556.8,301.0" fill="none" stroke="#0072BD" stroke-width="1.65" stroke-linejoin="round"/>
<polyline points="131.9,358.0 174.5,352.1 199.6,347.5 216.9,343.9 225.0,341.9 233.8,339.7 242.3,337.6 250.9,335.5 259.4,333.3 267.9,331.7 276.5,330.4 285.0,328.8 293.5,327.7 302.1,326.7 310.3,325.6 318.6,324.8 325.0,323.7 336.0,323.0 352.0,320.9 368.0,319.0 386.9,317.1 395.2,316.1 403.2,318.5 420.0,315.8 454.8,312.1 471.6,310.0 480.0,309.5 488.8,312.9 556.8,305.3" fill="none" stroke="#D95319" stroke-width="1.65" stroke-linejoin="round"/>
<polyline points="131.9,357.2 174.5,351.3 199.6,346.6 216.9,342.8 225.0,340.0 233.8,337.1 242.3,334.4 250.9,331.5 259.4,328.8 267.9,326.7 276.5,325.6 285.0,323.7 293.5,322.7 302.1,322.1 310.3,321.1 318.6,321.9 325.0,320.8 336.0,319.8 352.0,318.2 368.0,316.1 386.9,315.0 395.2,314.5 403.2,316.6 420.0,314.2 454.8,310.8 471.6,308.9 480.0,308.4 488.8,311.3 556.8,303.4" fill="none" stroke="#EDB120" stroke-width="1.65" stroke-linejoin="round"/>
<polyline points="131.9,358.8 174.5,352.6 199.6,348.2 216.9,345.4 225.0,343.7 233.8,341.9 242.3,339.7 250.9,337.6 259.4,335.5 267.9,333.9 276.5,332.3 285.0,330.7 293.5,329.6 302.1,328.5 310.3,327.2 318.6,326.4 325.0,325.1 336.0,324.1 352.0,321.9 368.0,319.5 386.9,317.4 395.2,316.3 403.2,316.6 420.0,313.9 454.8,309.2 471.6,307.3 480.0,306.4 488.8,307.9 556.8,298.9" fill="none" stroke="#7E2F8E" stroke-width="1.65" stroke-linejoin="round"/>
<rect x="131.7" y="298.3" width="425.3" height="61.30000000000001" fill="none" stroke="#8c8c8c" stroke-width="0.95"/>
<g stroke="#555" stroke-width="0.6">
<path d="M216.8,359.6v-4 M216.8,298.3v4"/>
<path d="M310.2,359.6v-4 M310.2,298.3v4"/>
<path d="M386.8,359.6v-4 M386.8,298.3v4"/>
<path d="M472,359.6v-4 M472,298.3v4"/>
<path d="M131.7,315.6h4 M557,315.6h-4"/>
<path d="M131.7,345.6h4 M557,345.6h-4"/>
</g>
<text x="133.8" y="307.6" font-size="11.3" font-weight="bold" fill="#000">d</text>
<text x="127.3" y="319.8" font-size="11.5" text-anchor="end">600</text>
<text x="127.3" y="349.8" font-size="11.5" text-anchor="end">400</text>
<text x="131.7" y="375.4" font-size="11.5" text-anchor="middle">0</text>
<text x="216.6" y="375.4" font-size="11.5" text-anchor="middle">10</text>
<text x="310" y="375.4" font-size="11.5" text-anchor="middle">20</text>
<text x="386.6" y="375.4" font-size="11.5" text-anchor="middle">30</text>
<text x="471.7" y="375.4" font-size="11.5" text-anchor="middle">40</text>
<text x="556.7" y="375.4" font-size="11.5" text-anchor="middle">50</text>
<text x="344.3" y="391.7" font-size="13" text-anchor="middle">Year</text>
<text transform="translate(83,329) rotate(-90)" font-size="13.2" text-anchor="middle">Dune Volume</text>
<text transform="translate(103,329) rotate(-90)" font-size="13.2" text-anchor="middle">(m<tspan dy="-4.5" font-size="9">3</tspan><tspan dy="4.5">/m)</tspan></text>
</svg></body></html>
